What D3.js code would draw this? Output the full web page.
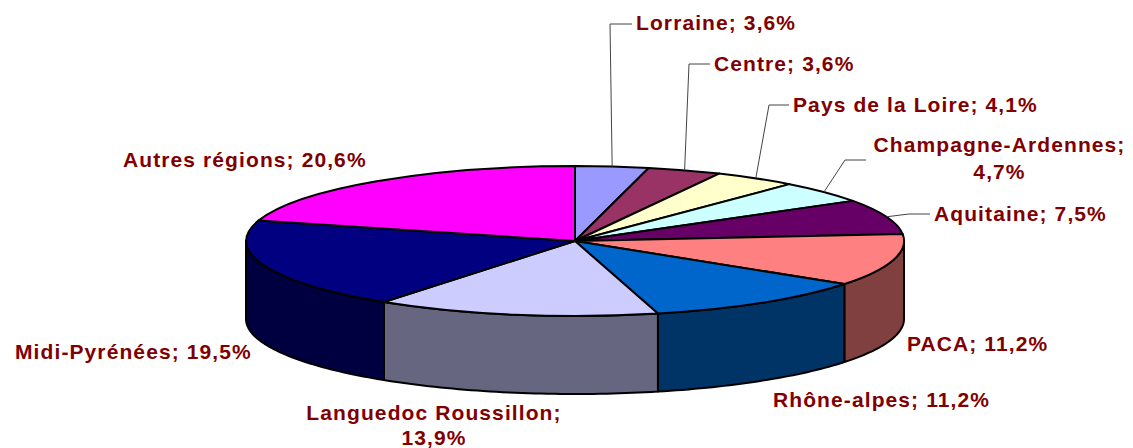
<!DOCTYPE html>
<html><head><meta charset="utf-8">
<script src="https://cdn.jsdelivr.net/npm/d3@7/dist/d3.min.js"></script>
<style>html,body{margin:0;background:#fff}svg{display:block}text{font-family:"Liberation Sans",Arial,sans-serif;font-weight:bold;font-size:21px;fill:#800000}</style>
</head><body><script>
const regions=["Lorraine","Centre","Pays de la Loire","Champagne-Ardennes","Aquitaine","PACA","Rhône-alpes","Languedoc Roussillon","Midi-Pyrénées","Autres régions"];
const shares=[3.6,3.6,4.1,4.7,7.5,11.2,11.2,13.9,19.5,20.6];
const valueLabels=["3,6%","3,6%","4,1%","4,7%","7,5%","11,2%","11,2%","13,9%","19,5%","20,6%"];
const topColors=["#9999ff","#993366","#ffffcc","#ccffff","#660066","#ff8080","#0066cc","#ccccff","#000080","#ff00ff"];
const sideColors=["#4d4d80","#4d1a33","#808066","#668080","#330033","#804040","#003366","#666680","#000040","#800080"];

const W=1133,H=448,cx=575,cy=241,rx=329,ry=75,depth=78;
const svg=d3.select("body").append("svg").attr("width",W).attr("height",H);
const sx=d3.scaleLinear().domain([-1,1]).range([cx-rx,cx+rx]);
const sy=d3.scaleLinear().domain([-1,1]).range([cy-ry,cy+ry]);
const pie=d3.pie().sort(null).value(d=>d)(shares);
const px=a=>sx(Math.sin(a)), py=a=>sy(-Math.cos(a));

// sides (front half only)
const sideArea=d3.area().x(px).y0(py).y1(a=>py(a)+depth);
pie.forEach((s,i)=>{
  const a0=Math.max(s.startAngle,Math.PI/2),a1=Math.min(s.endAngle,3*Math.PI/2);
  if(a1<=a0)return;
  const n=Math.ceil((a1-a0)/0.02);
  const pts=d3.range(n+1).map(k=>a0+(a1-a0)*k/n);
  svg.append("path").attr("d",sideArea(pts)).attr("fill",sideColors[i]).attr("stroke","#000").attr("stroke-width",2).attr("stroke-linejoin","round");
});
// top face
const arc=d3.arc().innerRadius(0).outerRadius(1);
const topFace=svg.append("g").attr("transform",`translate(${cx},${cy}) scale(${rx},${ry})`);
topFace.selectAll("path").data(pie).join("path").attr("d",arc)
  .attr("fill",(d,i)=>topColors[i]).attr("stroke","#000").attr("stroke-width",2)
  .attr("stroke-linejoin","round").attr("vector-effect","non-scaling-stroke");

// labels: [x, baseline, anchor, second-line gap]; wrapped entries break before the value
const labelPos=[[636,30,"start"],[714,71,"start"],[793,112,"start"],[999.5,152,"middle",26.5],[934,221,"start"],[907,351,"start"],[773,407,"start"],[434,420,"middle",25],[15,359,"start"],[123,167,"start"]];
const wrapped=[3,7];
const spacing=1.1;
regions.forEach((r,i)=>{
  const [x,y,an,gap]=labelPos[i];
  if(wrapped.includes(i)){
    svg.append("text").attr("x",x).attr("y",y).attr("text-anchor",an).style("letter-spacing",spacing+"px").text(r+";");
    svg.append("text").attr("x",x).attr("y",y+gap).attr("text-anchor",an).style("letter-spacing",spacing+"px").text(valueLabels[i]);
  } else svg.append("text").attr("x",x).attr("y",y).attr("text-anchor",an).style("letter-spacing",spacing+"px").text(r+"; "+valueLabels[i]);
});
// leader lines from slice mid-angle
const leaderVia=[[610,24,632,24],[689,64,710,64],[769,105,789,105],[845,160,866,160],[909,214,930,214]];
leaderVia.forEach((v,i)=>{
  const m=(pie[i].startAngle+pie[i].endAngle)/2;
  svg.append("path").attr("d",d3.line()([[px(m),py(m)],[v[0],v[1]],[v[2],v[3]]]))
    .attr("fill","none").attr("stroke","#444").attr("stroke-width",1);
});
</script></body></html>
